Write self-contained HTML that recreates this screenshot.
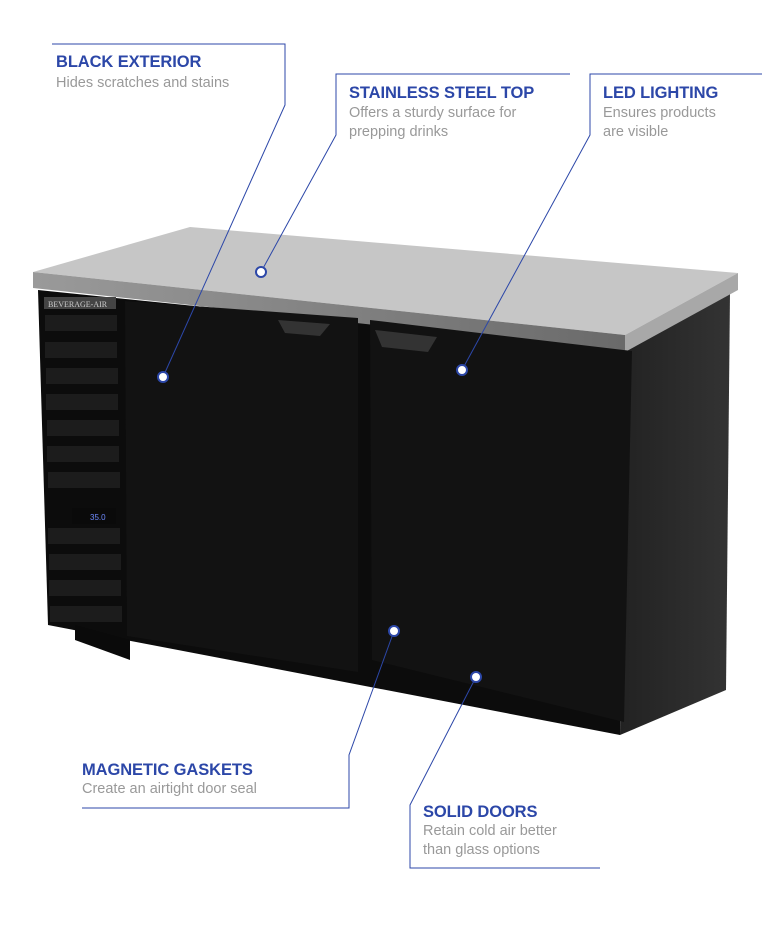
<!DOCTYPE html>
<html><head><meta charset="utf-8"><style>
body{margin:0;background:#fff;width:770px;height:932px;overflow:hidden;position:relative;font-family:"Liberation Sans",sans-serif}
.t{position:absolute;color:#2c47a8;font-weight:bold;font-size:16.5px;letter-spacing:-0.1px}
.d{position:absolute;color:#999;font-size:14.5px;line-height:19px}
</style></head><body>
<svg width="770" height="932" style="position:absolute;left:0;top:0">
<defs><linearGradient id="e" x1="0" x2="1"><stop offset="0" stop-color="#9a9a9a"/><stop offset="1" stop-color="#6a6a6a"/></linearGradient>
<linearGradient id="s" x1="0" x2="1"><stop offset="0" stop-color="#222"/><stop offset="1" stop-color="#333"/></linearGradient></defs>
<polygon points="38,290 625,350 620,735 48,625" fill="#0c0c0c"/>
<polygon points="625,348 730,292 726,690 620,735" fill="url(#s)"/>
<polygon points="75,625 130,640 130,660 75,640" fill="#0a0a0a"/>
<polygon points="33,272 190,227 738,273 625,335" fill="#c6c6c6"/>
<polygon points="33,272 625,335 625,352 33,288" fill="url(#e)"/>
<polygon points="625,335 738,273 738,290 625,352" fill="#a8a8a8"/>
<polygon points="125,301 358,318 358,672 127,636" fill="#121212"/>
<polygon points="370,320 632,351 624,722 372,660" fill="#121212"/>
<polygon points="278,320 330,324 320,336 285,333" fill="#333"/>
<polygon points="375,330 437,337 428,352 382,347" fill="#333"/>
<g fill="#1c1c1c">
<rect x="45" y="315" width="72" height="16"/><rect x="45" y="342" width="72" height="16"/><rect x="46" y="368" width="72" height="16"/><rect x="46" y="394" width="72" height="16"/><rect x="47" y="420" width="72" height="16"/><rect x="47" y="446" width="72" height="16"/><rect x="48" y="472" width="72" height="16"/><rect x="48" y="528" width="72" height="16"/><rect x="49" y="554" width="72" height="16"/><rect x="49" y="580" width="72" height="16"/><rect x="50" y="606" width="72" height="16"/>
</g>
<rect x="44" y="297" width="72" height="12" fill="#444"/>
<text x="48" y="307" font-size="8" fill="#ccc" font-family="Liberation Serif">BEVERAGE-AIR</text>
<rect x="72" y="508" width="44" height="16" fill="#0a0a0a"/>
<text x="90" y="520" font-size="8" fill="#6f8bff">35.0</text>
<g stroke="#2c47a8" stroke-width="1" fill="none">
<polyline points="52,44 285,44 285,105 163,377"/>
<polyline points="570,74 336,74 336,135 261,272"/>
<polyline points="762,74 590,74 590,135 462,370"/>
<polyline points="82,808 349,808 349,755 394,631"/>
<polyline points="600,868 410,868 410,805 476,677"/>
</g>
<g fill="#fff" stroke="#2c47a8" stroke-width="2">
<circle cx="163" cy="377" r="5"/><circle cx="261" cy="272" r="5"/><circle cx="462" cy="370" r="5"/><circle cx="394" cy="631" r="5"/><circle cx="476" cy="677" r="5"/>
</g>
</svg>
<div class="t" style="left:56px;top:53px">BLACK EXTERIOR</div>
<div class="d" style="left:56px;top:74px">Hides scratches and stains</div>
<div class="t" style="left:349px;top:84px">STAINLESS STEEL TOP</div>
<div class="d" style="left:349px;top:104px">Offers a sturdy surface for<br>prepping drinks</div>
<div class="t" style="left:603px;top:84px">LED LIGHTING</div>
<div class="d" style="left:603px;top:104px">Ensures products<br>are visible</div>
<div class="t" style="left:82px;top:761px">MAGNETIC GASKETS</div>
<div class="d" style="left:82px;top:780px">Create an airtight door seal</div>
<div class="t" style="left:423px;top:803px">SOLID DOORS</div>
<div class="d" style="left:423px;top:822px">Retain cold air better<br>than glass options</div>
</body></html>
